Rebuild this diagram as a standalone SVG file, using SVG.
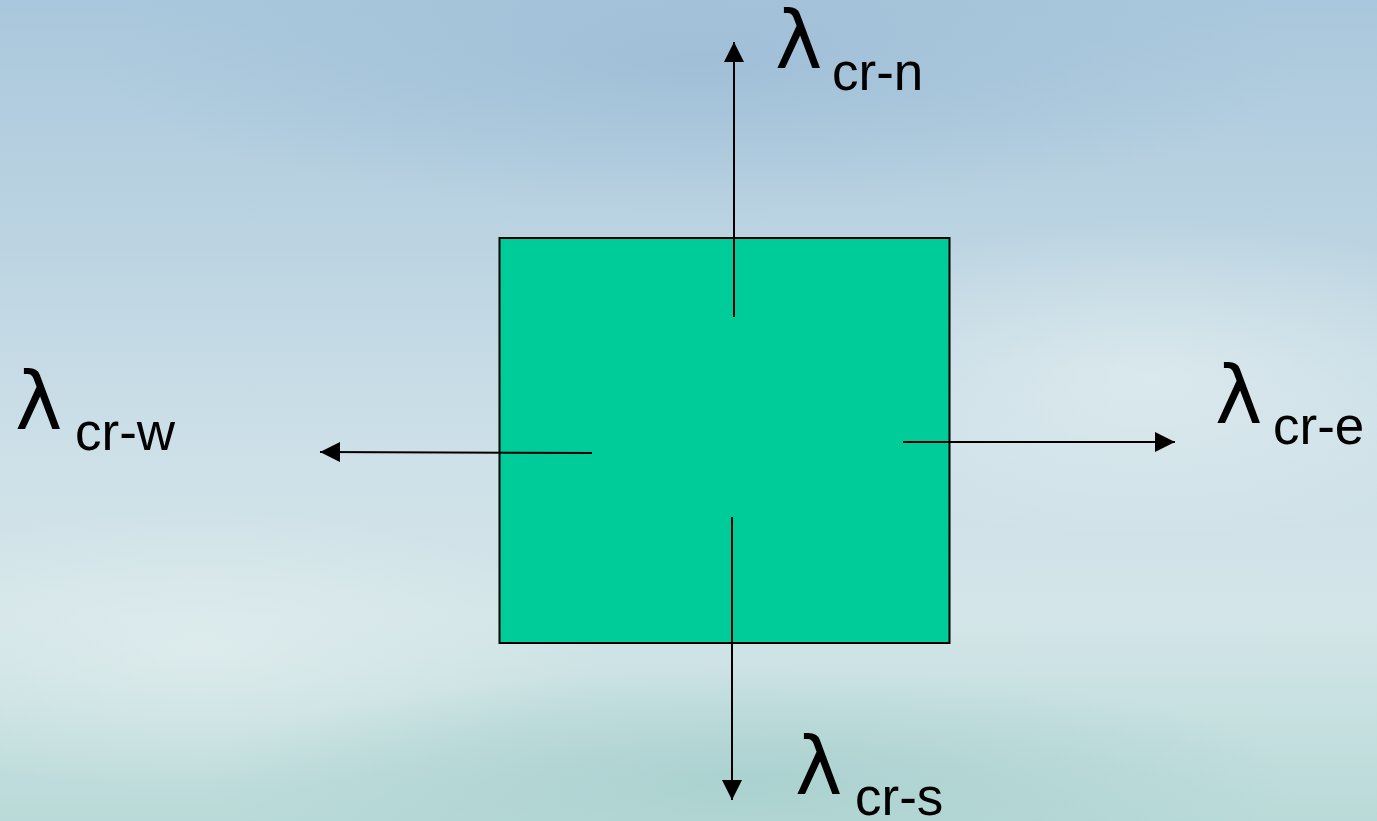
<svg xmlns="http://www.w3.org/2000/svg" width="1377" height="821" viewBox="0 0 1377 821">
<defs>
<linearGradient id="sky" x1="0" y1="0" x2="0" y2="1">
<stop offset="0" stop-color="#a9c7dc"/>
<stop offset="0.3" stop-color="#bcd4e2"/>
<stop offset="0.55" stop-color="#cde0e8"/>
<stop offset="0.75" stop-color="#d3e5e8"/>
<stop offset="1" stop-color="#b9dad8"/>
</linearGradient>
<radialGradient id="c1" cx="0.5" cy="0.5" r="0.5">
<stop offset="0" stop-color="#9dbdd6" stop-opacity="0.8"/>
<stop offset="1" stop-color="#9dbdd6" stop-opacity="0"/>
</radialGradient>
<radialGradient id="c2" cx="0.5" cy="0.5" r="0.5">
<stop offset="0" stop-color="#e2eeef" stop-opacity="0.7"/>
<stop offset="1" stop-color="#e2eeef" stop-opacity="0"/>
</radialGradient>
<radialGradient id="c3" cx="0.5" cy="0.5" r="0.5">
<stop offset="0" stop-color="#a6cfcd" stop-opacity="0.8"/>
<stop offset="1" stop-color="#a6cfcd" stop-opacity="0"/>
</radialGradient>
<marker id="ah" viewBox="0 0 20 20" refX="20" refY="10" markerWidth="20" markerHeight="20" markerUnits="userSpaceOnUse" orient="auto">
<path d="M0,0 L20,10 L0,20 Z" fill="#000"/>
</marker>
<style>
.conn{stroke:#000;stroke-width:2;fill:none;marker-end:url(#ah)}
.lam{font-family:"DejaVu Sans","Liberation Sans",sans-serif;font-size:80px;fill:#000}
.sub{font-family:"Liberation Sans",Arial,sans-serif;font-size:53px;fill:#000}
</style>
</defs>
<rect width="1377" height="821" fill="url(#sky)"/>
<ellipse cx="700" cy="60" rx="600" ry="150" fill="url(#c1)"/>
<ellipse cx="1150" cy="380" rx="400" ry="160" fill="url(#c2)"/>
<ellipse cx="200" cy="650" rx="400" ry="140" fill="url(#c2)"/>
<ellipse cx="750" cy="780" rx="550" ry="110" fill="url(#c3)"/>
<g id="node-box">
<rect x="499.5" y="238" width="450" height="405" fill="#00cc99" stroke="#000" stroke-width="2"/>
</g>
<g id="connectors">
<line class="conn" x1="734" y1="317" x2="734" y2="42"/>
<line class="conn" x1="592" y1="453" x2="320" y2="452"/>
<line class="conn" x1="903" y1="442" x2="1175" y2="442"/>
<line class="conn" x1="732" y1="517" x2="732" y2="800"/>
</g>
<g id="label-n"><text class="lam" x="775" y="68">λ</text><text class="sub" x="832" y="90">cr-n</text></g>
<g id="label-w"><text class="lam" x="15" y="429">λ</text><text class="sub" x="75" y="450">cr-w</text></g>
<g id="label-e"><text class="lam" x="1215" y="423">λ</text><text class="sub" x="1273" y="444">cr-e</text></g>
<g id="label-s"><text class="lam" x="795" y="794">λ</text><text class="sub" x="855" y="815">cr-s</text></g>
</svg>
